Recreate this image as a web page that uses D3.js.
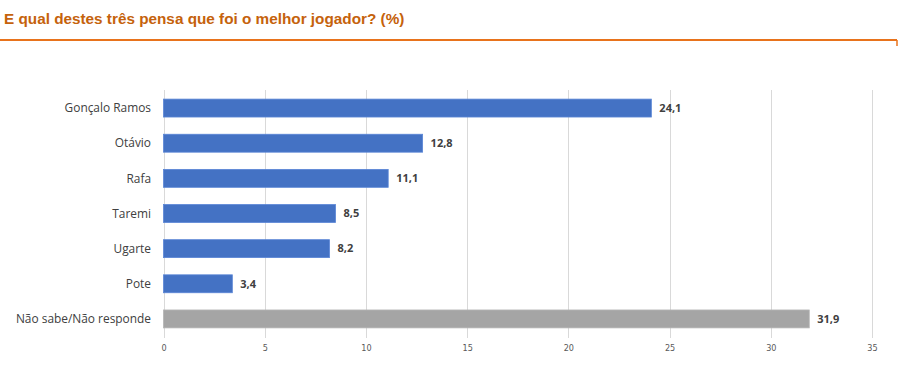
<!DOCTYPE html>
<html><head><meta charset="utf-8">
<script src="https://cdn.jsdelivr.net/npm/d3@7"></script>
<style>body{margin:0;background:#fff}svg{display:block}</style>
</head><body>
<svg id="c" width="900" height="368"></svg>
<script>
const categories = ["Gonçalo Ramos","Otávio","Rafa","Taremi","Ugarte","Pote","Não sabe/Não responde"];
const values = [24.1,12.8,11.1,8.5,8.2,3.4,31.9];
const barColors = ["#4472c4","#4472c4","#4472c4","#4472c4","#4472c4","#4472c4","#a5a5a5"];
const xTicks = [0,5,10,15,20,25,30,35];
const title = "E qual destes três pensa que foi o melhor jogador? (%)";

const svg = d3.select("#c");
const x = d3.scaleLinear().domain([0,35]).range([163.5,872]);
const y = d3.scaleBand().domain(categories).range([90.5,336.5]).paddingInner(0.49).paddingOuter(0.245);

// title
svg.append("text").attr("x",4).attr("y",24).text(title)
  .attr("font-family","'Liberation Sans',Arial,sans-serif")
  .attr("font-size",15.3).attr("font-weight","bold").attr("fill","#c5620c");
svg.append("line").attr("x1",0).attr("x2",897).attr("y1",40).attr("y2",40).attr("stroke","#e8731c").attr("stroke-width",2);
svg.append("line").attr("x1",897).attr("x2",897).attr("y1",40).attr("y2",46).attr("stroke","#e8731c").attr("stroke-width",1.5);

// gridlines
svg.append("g").selectAll("line").data(xTicks).join("line")
  .attr("x1",d=>Math.round(x(d))+0.5).attr("x2",d=>Math.round(x(d))+0.5)
  .attr("y1",90).attr("y2",338).attr("stroke","#d9d9d9").attr("stroke-width",1);

// x axis labels
const ax = svg.append("g").attr("transform","translate(0,338)")
  .call(d3.axisBottom(x).tickValues(xTicks).tickSize(0).tickPadding(7));
ax.select(".domain").remove();
ax.selectAll("text").attr("font-family","'Liberation Sans Narrow','DejaVu Sans Condensed',sans-serif")
  .attr("font-size",9).attr("fill","#595959");

// bars
svg.append("g").selectAll("rect").data(values).join("rect")
  .attr("x",x(0)).attr("y",(d,i)=>y(categories[i]))
  .attr("width",d=>x(d)-x(0)).attr("height",y.bandwidth())
  .attr("fill",(d,i)=>barColors[i])
  .attr("stroke",(d,i)=>i===6?"#b5b5b5":"#5a86d6").attr("stroke-width",0.8);

// category labels
svg.append("g").selectAll("text").data(categories).join("text")
  .attr("x",151).attr("y",d=>y(d)+y.bandwidth()/2).attr("dy","0.35em")
  .attr("text-anchor","end").text(d=>d)
  .attr("font-family","'Open Sans',sans-serif").attr("font-size",11.9).attr("fill","#404040");

// value labels
svg.append("g").selectAll("text").data(values).join("text")
  .attr("x",d=>x(d)+8).attr("y",(d,i)=>y(categories[i])+y.bandwidth()/2).attr("dy","0.35em")
  .text(d=>d3.format(".1f")(d).replace(".",","))
  .attr("font-family","'Open Sans',sans-serif").attr("font-size",11).attr("font-weight","bold").attr("fill","#404040");
</script>
</body></html>
